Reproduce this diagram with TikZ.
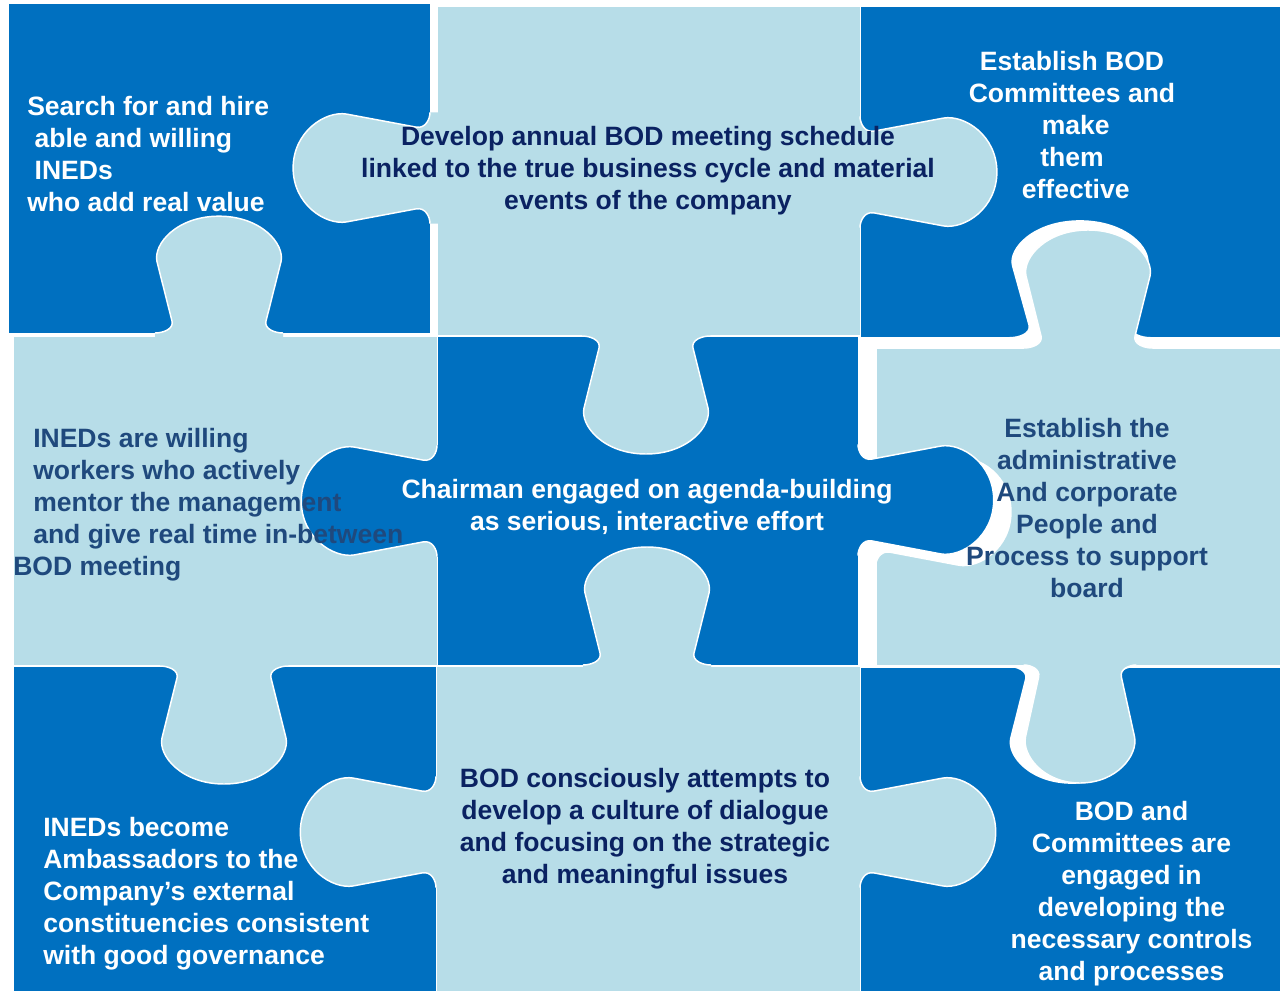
\documentclass[tikz,border=0pt]{standalone}
\usepackage{fontspec}
\setmainfont{Liberation Sans}
\definecolor{pzdark}{HTML}{0070C0}
\definecolor{pzlight}{HTML}{B7DDE8}
\definecolor{navyA}{HTML}{0A2262}
\definecolor{navyB}{HTML}{1F497D}

% outline of one puzzle tab, base on the u axis, pointing towards +v
\newcommand\tabcurve{(-64,0) .. controls (-56,0) and (-45,4) .. (-47,12)
  -- (-62,72) .. controls (-66,90) and (-42,118) .. (0,118)
  .. controls (42,118) and (66,90) .. (62,72)
  -- (47,12) .. controls (45,4) and (56,0) .. (64,0)}

% #1 colour, #2/#3 base centre, #4 rotation, #5 width factor, #6 length factor
\newcommand\pztab[6]{%
  \begin{scope}[shift={(#2,#3)},rotate=#4,xscale=#5,yscale=#6]
    \fill[#1] (-64,-22) -- \tabcurve -- (64,-22) -- cycle;
    \draw[tabline] \tabcurve;
  \end{scope}}

% hole cut into a piece: #1/#2 base centre, #3 rotation, #4 width, #5 length
\newcommand\pzhole[5]{%
  \begin{scope}[shift={(#1,#2)},rotate=#3,xscale=#4,yscale=#5]
    \fill[white] \tabcurve -- cycle;
  \end{scope}}

\begin{document}
\begin{tikzpicture}[x=0.75pt,y=-0.75pt,
  body/.style={draw=white,line width=0.75pt},
  tabline/.style={draw=white,line width=1.1pt},
  txt/.style={inner sep=0pt,font=\fontsize{19.9}{24}\selectfont\bfseries,
    execute at begin node=\strut}]
\useasboundingbox (0,0) rectangle (1280,991);
\fill[white] (0,0) rectangle (1280,991);

% piece bodies
\path[body,fill=pzdark]  (8,4)     rectangle (430,333);
\path[body,fill=pzlight] (437,7)   rectangle (860,335);
\path[body,fill=pzdark]  (860,7)   rectangle (1280,337);
\path[body,fill=pzlight] (13,336)  rectangle (437,665);
\path[body,fill=pzdark]  (437,336) rectangle (858,665);
\path[body,fill=pzlight] (876,348) rectangle (1280,665);
\path[body,fill=pzdark]  (13,666)  rectangle (436,991);
\path[body,fill=pzlight] (436,666) rectangle (860,991);
\path[body,fill=pzdark]  (860,667) rectangle (1280,991);

% holes left open by the shifted right-hand piece
\pzhole{1080}{337}{180}{1.1}{0.99}
\pzhole{1072}{667}{0}{1}{0.99}
\pzhole{876}{512}{90}{0.87}{1.15}

% tabs
\pztab{pzlight}{430}{168}{-90}{0.87}{1.16}
\pztab{pzlight}{860}{172}{90}{0.87}{1.16}
\pztab{pzlight}{646}{336}{0}{1}{1}
\pztab{pzlight}{219}{333}{180}{1}{0.99}
\pztab{pzlight}{224}{666}{0}{1}{1}
\pztab{pzdark}{437}{501}{-90}{0.87}{1.15}
\pztab{pzdark}{858}{500}{90}{0.87}{1.15}
\pztab{pzlight}{1088}{348}{180}{1}{1}
\pztab{pzlight}{1080}{665}{0}{0.88}{1}
\pztab{pzlight}{436}{832}{-90}{0.87}{1.15}
\pztab{pzlight}{860}{832}{90}{0.87}{1.15}
\pztab{pzlight}{647}{665}{180}{1}{1}

% texts
\node[txt,text=white,align=left,anchor=north west] (tl) at (27,96.1)
  {Search for and hire\\~able and willing\\~INEDs\\who add real value};
\node[txt,text=navyA,align=center,anchor=north] (tm) at (648,126.1)
  {Develop annual BOD meeting schedule\\linked to the true business cycle and material\\events of the company};
\node[txt,text=white,align=center,anchor=north] (tr) at (1072,51.1)
  {Establish BOD\\Committees and\\~make\\them\\~effective};
\node[txt,text=navyB,align=left,anchor=north west] (ml) at (13,428.1)
  {\hspace*{15pt}INEDs are willing\\\hspace*{15pt}workers who actively\\\hspace*{15pt}mentor the management\\\hspace*{15pt}and give real time in-between\\BOD meeting};
\node[txt,text=white,align=center,anchor=north] (cc) at (647,479.1)
  {Chairman engaged on agenda-building\\as serious, interactive effort};
\node[txt,text=navyB,align=center,anchor=north] (mr) at (1087,418.1)
  {Establish the\\administrative\\And corporate\\People and\\Process to support\\board};
\node[txt,text=white,align=left,anchor=north west] (bl) at (43,817.1)
  {INEDs become\\Ambassadors to the\\Company’s external\\constituencies consistent\\with good governance};
\node[txt,text=navyA,align=center,anchor=north] (bm) at (645,768.1)
  {BOD consciously attempts to\\develop a culture of dialogue\\and focusing on the strategic\\and meaningful issues};
\node[txt,text=white,align=center,anchor=north] (br) at (1131.5,801.1)
  {BOD and\\Committees are\\engaged in\\developing the\\necessary controls\\and processes};
\end{tikzpicture}
\end{document}
